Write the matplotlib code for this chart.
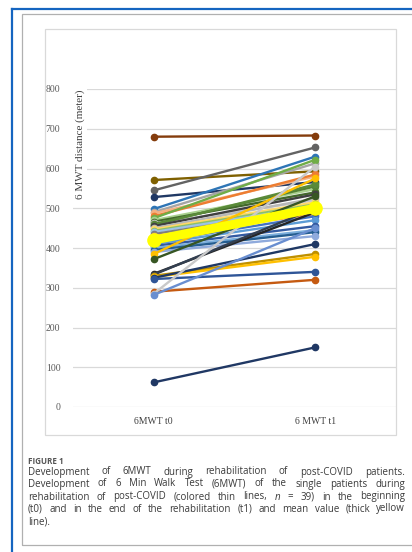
import matplotlib
matplotlib.use("Agg")
import matplotlib.pyplot as plt
from matplotlib.patches import Rectangle
from matplotlib.lines import Line2D

# 6MWT distance per patient, start (t0) and end (t1) of rehab
categories = ["6MWT t0", "6 MWT t1"]
t0 = [680, 571, 545, 528, 498, 490, 487, 480, 475, 470, 466, 462, 460, 458,
      455, 450, 447, 443, 440, 435, 430, 415, 410, 405, 400, 395, 390, 385,
      372, 335, 333, 330, 327, 325, 322, 290, 285, 282, 62]
t1 = [683, 593, 653, 566, 630, 613, 580, 585, 622, 548, 540, 520, 555, 560,
      535, 525, 515, 510, 505, 498, 485, 480, 470, 455, 445, 440, 430, 575,
      530, 490, 500, 385, 378, 410, 340, 320, 605, 450, 150]
colors = ["#843C0C", "#7F6000", "#636363", "#203864", "#2E75B6", "#A5A5A5",
          "#F4B183", "#ED7D31", "#70AD47", "#A9D18E", "#43682B", "#C9C9C9",
          "#548235", "#5A8A39", "#404040", "#B7B7B7", "#FFD966", "#8CC168",
          "#9DC3E6", "#7F7F7F", "#F1975A", "#4472C4", "#5B9BD5", "#335AA1",
          "#7CAFDD", "#255E91", "#8FAADC", "#FFC000", "#375623", "#262626",
          "#333F50", "#BF9000", "#FFC000", "#1F3864", "#2F5597", "#C55A11",
          "#C9C9C9", "#698ED0", "#203864"]
mean_t0 = 420
mean_t1 = 500

yticks = [0, 100, 200, 300, 400, 500, 600, 700, 800]

W, H = 412, 552
fig = plt.figure(figsize=(W / 100, H / 100), dpi=100)

# page frame decorations
fig.add_artist(Line2D([12 / W, 1], [1 - 9 / H, 1 - 9 / H], color="#1565C0", lw=1.6))
fig.add_artist(Line2D([12 / W, 12 / W], [0, 1 - 9 / H], color="#1565C0", lw=1.6))
fig.add_artist(Rectangle((22 / W, 1 - 545 / H), 400 / W, 531 / H, fill=False,
                         ec="#B0B0B0", lw=0.9))
fig.add_artist(Rectangle((45 / W, 1 - 435 / H), 351 / W, 406 / H, fill=False,
                         ec="#D9D9D9", lw=0.9))

ax = fig.add_axes([73 / W, 1 - 407 / H, 323 / W, 318 / H])
x = [0, 1]
for a, b, c in zip(t0, t1, colors):
    ax.plot(x, [a, b], color=c, lw=1.7, marker="o", ms=4.5, zorder=3)
ax.plot(x, [mean_t0, mean_t1], color="#FFFF00", lw=6.5, marker="o", ms=9.5,
        solid_capstyle="round", zorder=5)

ax.set_xlim(-0.5, 1.5)
ax.set_ylim(0, 800)
ax.set_yticks(yticks)
for y in yticks:
    ax.axhline(y, color="#D9D9D9", lw=0.9, zorder=1)
for s in ax.spines.values():
    s.set_visible(False)
ax.tick_params(length=0)
ax.set_xticks(x)
ax.set_xticklabels(categories, family="Liberation Serif", fontsize=7,
                   color="#404040")
ax.tick_params(axis="x", pad=7)
ax.tick_params(axis="y", pad=9)
for lab in ax.get_yticklabels():
    lab.set_family("Liberation Serif")
    lab.set_fontsize(7)
    lab.set_color("#595959")

fig.text(80 / W, 1 - 144 / H, "6 MWT distance (meter)", rotation=90,
         ha="center", va="center", family="Liberation Serif", fontsize=8,
         color="#404040", bbox=dict(fc="white", ec="none", pad=1.5))

# caption
fig.text(28 / W, 1 - 461 / H, "FIGURE 1", family="Open Sans", weight="bold",
         fontsize=5.8, color="#555555", va="center")

lines = [
    "Development of 6MWT during rehabilitation of post-COVID patients.",
    "Development of 6 Min Walk Test (6MWT) of the single patients during",
    "rehabilitation of post-COVID (colored thin lines, n = 39) in the beginning",
    "(t0) and in the end of the rehabilitation (t1) and mean value (thick yellow",
    "line).",
]
line_y = [472, 484, 497, 509, 522]
x0, x1 = 28, 405
caption = []
for txt, ly in zip(lines, line_y):
    objs = []
    for w in txt.split(" "):
        style = "italic" if w == "n" else "normal"
        objs.append(fig.text(0, 1 - ly / H, w, family="Open Sans", fontsize=7,
                             color="#3a3a3a", va="center", style=style))
    caption.append(objs)

fig.canvas.draw()
renderer = fig.canvas.get_renderer()
scale = W / fig.bbox.width  # display units -> reference pixels
for i, objs in enumerate(caption):
    widths = [t.get_window_extent(renderer=renderer).width * scale for t in objs]
    if i == len(caption) - 1:
        gap = 3
    else:
        gap = (x1 - x0 - sum(widths)) / (len(objs) - 1)
    pos = x0
    for t, wd in zip(objs, widths):
        t.set_x(pos / W)
        pos += wd + gap

fig.savefig("out.png", dpi=100)
